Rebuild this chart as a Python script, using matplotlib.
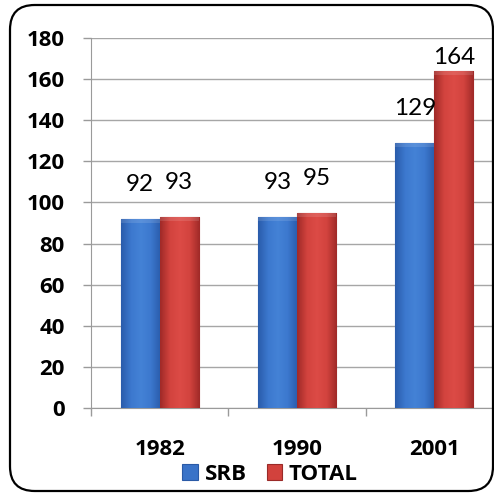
import numpy as np
import matplotlib.pyplot as plt
from matplotlib.colors import LinearSegmentedColormap
from matplotlib.patches import FancyBboxPatch

years = ['1982', '1990', '2001']
srb = [92, 93, 129]
total = [93, 95, 164]
series_names = ['SRB', 'TOTAL']
y_ticks = [0, 20, 40, 60, 80, 100, 120, 140, 160, 180]

plt.rcParams['font.family'] = ['Lato', 'DejaVu Sans']
BOLD_FONT = ['Open Sans', 'DejaVu Sans']

blue_cmap = LinearSegmentedColormap.from_list(
    'b', ['#2a5cab', '#3c78ce', '#4482d6', '#3c78ce', '#2a5cab'])
red_cmap = LinearSegmentedColormap.from_list(
    'r', ['#a02a28', '#d2433e', '#dc4b46', '#d2433e', '#a02a28'])


def gradient_bars(ax, bars, cmap):
    grad = np.linspace(0, 1, 64).reshape(1, -1)
    for b in bars:
        x0, y0 = b.get_x(), b.get_y()
        w, h = b.get_width(), b.get_height()
        im = ax.imshow(grad, cmap=cmap, aspect='auto',
                       extent=(x0, x0 + w, y0, y0 + h), zorder=3)
        im.set_clip_path(b)
        # light bevel on the top edge
        ax.fill_between([x0, x0 + w], y0 + h - 2.2, y0 + h, color='white',
                        alpha=0.12, zorder=4, linewidth=0)


fig = plt.figure(figsize=(4.94, 4.93), dpi=100)
ax = fig.add_axes([91 / 494, 85 / 493, 412 / 494, 370 / 493])

x = np.arange(len(years))
w = 0.285
bars_srb = ax.bar(x - w / 2, srb, w, color='#3a73c8', edgecolor='#2a5aa6',
                  linewidth=0.8, zorder=3, label=series_names[0])
bars_tot = ax.bar(x + w / 2, total, w, color='#d2423d', edgecolor='#9a2a28',
                  linewidth=0.8, zorder=3, label=series_names[1])
gradient_bars(ax, bars_srb, blue_cmap)
gradient_bars(ax, bars_tot, red_cmap)

for xs, vals in [(x - w / 2, srb), (x + w / 2, total)]:
    for xi, v in zip(xs, vals):
        off = 3 if v > 150 else 24
        ax.annotate(str(v), (xi, v), xytext=(0, off), textcoords='offset pixels',
                    ha='center', va='bottom', fontsize=17.5, color='black')

ax.set_xlim(-0.5, len(years) - 0.5)
ax.set_ylim(0, 180)
ax.set_yticks(y_ticks)
ax.set_yticklabels([str(t) for t in y_ticks], fontsize=16,
                   fontweight='bold', family=BOLD_FONT)
ax.set_xticks(x)
ax.set_xticklabels(years, fontsize=16, fontweight='bold', family=BOLD_FONT)
ax.set_xticks(np.arange(len(years) + 1) - 0.5, minor=True)
ax.tick_params(axis='x', which='major', length=0, pad=22)
ax.tick_params(axis='x', which='minor', length=6, color='#9a9a9a', width=1)
ax.tick_params(axis='y', length=6, color='#9a9a9a', width=1, pad=13)
ax.grid(axis='y', color='#a6a6a6', linewidth=1, zorder=0)
ax.set_axisbelow(True)
for s in ['top', 'right']:
    ax.spines[s].set_visible(False)
ax.spines['left'].set_color('#9a9a9a')
ax.spines['bottom'].set_color('#9a9a9a')

leg = fig.legend(handles=[bars_srb, bars_tot], loc='center',
                 bbox_to_anchor=(270 / 494, 1 - 474 / 493), ncol=2,
                 frameon=False, handlelength=0.7, handleheight=0.7,
                 handletextpad=0.3, columnspacing=0.9,
                 prop={'size': 16, 'weight': 'bold', 'family': BOLD_FONT})

frame = FancyBboxPatch((10 / 494, 1 - 491 / 493), 483 / 494, 486 / 493,
                       boxstyle='round,pad=0,rounding_size=0.05',
                       transform=fig.transFigure, facecolor='none',
                       edgecolor='black', linewidth=1.6, zorder=0)
fig.patches.append(frame)

fig.savefig('out.png', dpi=100)
